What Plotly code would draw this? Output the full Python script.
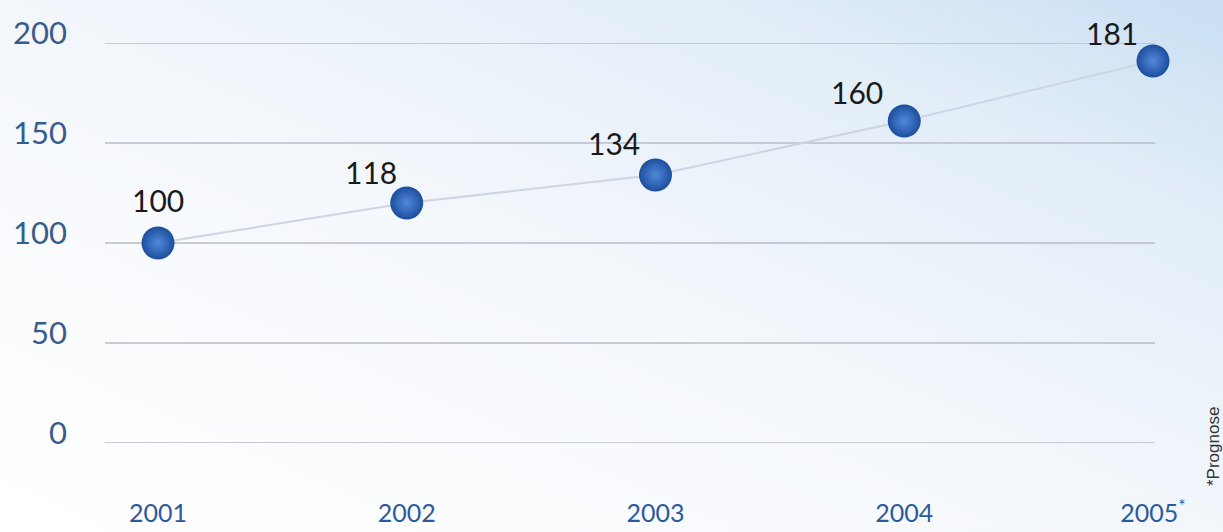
import base64
import plotly.graph_objects as go

# ---- data ----
years = ["2001", "2002", "2003", "2004", "2005"]
year_labels = ["2001", "2002", "2003", "2004", "2005<sup>*</sup>"]
index_labels = [100, 118, 134, 160, 181]          # printed values
index_plotted = [100, 120, 134, 161, 191]          # marker heights as drawn in the reference
y_ticks = [0, 50, 100, 150, 200]
footnote = "*Prognose"

# label offsets (pixels) relative to each marker
label_dx = [0, -36, -42, -47, -41]
label_dy = [43, 31, 32, 29, 28]

W, H = 1223, 532
ML, MR, MT, MB = 105, 68, 43, 89
PW, PH = W - ML - MR, H - MT - MB

svg = f'''<svg xmlns="http://www.w3.org/2000/svg" width="{W}" height="{H}" viewBox="0 0 {W} {H}" preserveAspectRatio="none">
<defs><linearGradient id="g" x1="0" y1="1" x2="1" y2="0">
<stop offset="0" stop-color="#ffffff"/>
<stop offset="0.45" stop-color="#f5f8fc"/>
<stop offset="0.8" stop-color="#e2edf8"/>
<stop offset="1" stop-color="#c8def3"/>
</linearGradient></defs>
<rect width="{W}" height="{H}" fill="url(#g)"/></svg>'''
bg_uri = "data:image/svg+xml;base64," + base64.b64encode(svg.encode()).decode()

xs = list(range(len(years)))
fig = go.Figure()

# horizontal grid lines at the y ticks
for t in y_ticks:
    fig.add_shape(type="line", xref="paper", yref="y", x0=0, x1=1, y0=t, y1=t,
                  line=dict(color="#b9bdc9", width=1.5), layer="below")

fig.add_trace(go.Scatter(
    x=xs, y=index_plotted, mode="lines",
    line=dict(color="#cdd4e4", width=2), hoverinfo="skip", showlegend=False))
fig.add_trace(go.Scatter(
    x=xs, y=index_plotted, mode="markers",
    marker=dict(size=33, color="#1d4e9e",
                gradient=dict(type="radial", color="#5289da"),
                line=dict(width=0)),
    cliponaxis=False, showlegend=False))

for x, y, lab, dx, dy in zip(xs, index_plotted, index_labels, label_dx, label_dy):
    fig.add_annotation(x=x, y=y, xref="x", yref="y", text=str(lab), showarrow=False,
                       xanchor="center", yanchor="middle", xshift=dx, yshift=dy,
                       font=dict(family="Lato, sans-serif", size=30, color="#1a1a1a"))

fig.add_annotation(
    x=(1213 - ML) / PW, y=(H - MB - 447) / PH, xref="paper", yref="paper",
    text=footnote, showarrow=False, textangle=-90, xanchor="center", yanchor="middle",
    font=dict(family="Liberation Sans Narrow, Liberation Sans, sans-serif", size=17, color="#333333"))

fig.add_layout_image(dict(
    source=bg_uri, xref="paper", yref="paper",
    x=-ML / PW, y=1 + MT / PH, sizex=W / PW, sizey=H / PH,
    xanchor="left", yanchor="top", sizing="stretch", layer="below"))

fig.update_layout(
    width=W, height=H,
    margin=dict(l=ML, r=MR, t=MT, b=MB, autoexpand=False),
    paper_bgcolor="white", plot_bgcolor="rgba(0,0,0,0)",
    xaxis=dict(range=[-0.213, 4.008], tickmode="array", tickvals=xs, ticktext=year_labels,
               showgrid=False, zeroline=False, showline=False, ticks="", automargin=False,
               tickfont=dict(family="Lato, sans-serif", size=25, color="#2c5b9c"),
               ticklabelstandoff=53),
    yaxis=dict(range=[0, 200], tickmode="array", tickvals=y_ticks,
               showgrid=False, zeroline=False, showline=False, ticks="", automargin=False,
               tickfont=dict(family="Lato, sans-serif", size=31, color="#375d8c"),
               ticklabelstandoff=37, ticklabelshift=-10),
)

fig.write_html("out.html", config={"displayModeBar": False},
               post_script="document.body.style.margin='0';document.body.style.overflow='hidden';")
